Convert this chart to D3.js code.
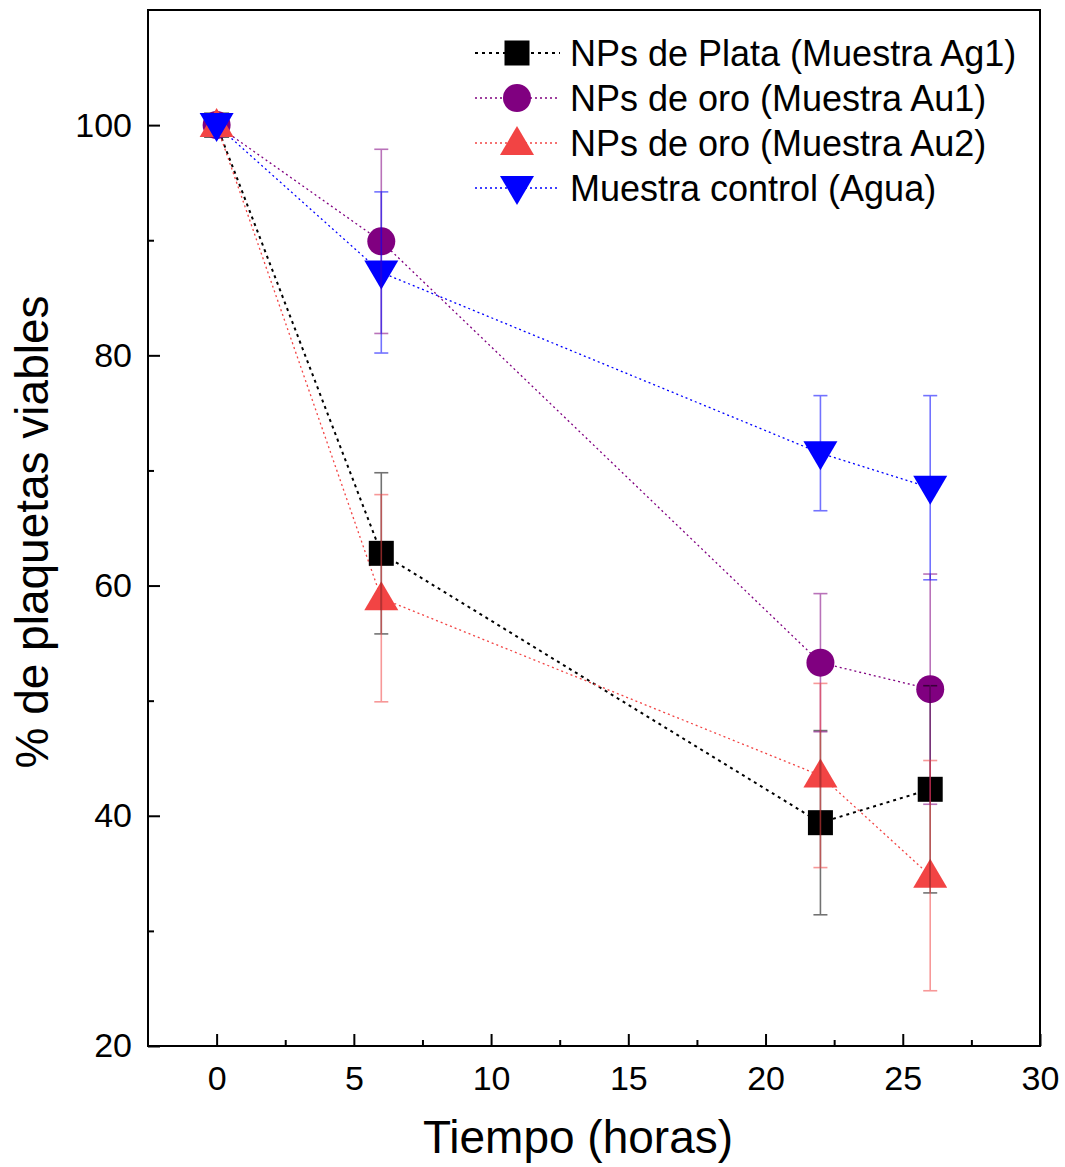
<!DOCTYPE html>
<html>
<head>
<meta charset="utf-8">
<script src="https://cdn.jsdelivr.net/npm/d3@7"></script>
<style>
  body { margin: 0; background: #fff; }
  text { font-family: "Liberation Sans", Arial, sans-serif; }
</style>
</head>
<body>
<svg id="chart" width="1065" height="1167"></svg>
<script>
// time points (horas)
const tiempo = [0, 6, 22, 26];

// % de plaquetas viables, one array per sample, plus their errors
const ag1 = [100, 62.8, 39.4, 42.3];
const ag1Err = [0, 7, 8, 9];
const au1 = [100, 89.9, 53.3, 51.0];
const au1Err = [0, 8, 6, 10];
const au2 = [100, 58.9, 43.5, 34.8];
const au2Err = [0, 9, 8, 10];
const control = [100, 87.2, 71.5, 68.5];
const controlErr = [0, 7, 5, 8];

const names = [
    "NPs de Plata (Muestra Ag1)",
    "NPs de oro (Muestra Au1)",
    "NPs de oro (Muestra Au2)",
    "Muestra control (Agua)"
];

const xTicks = [0, 5, 10, 15, 20, 25, 30];
const yTicks = [20, 40, 60, 80, 100];

const series = [
    { name: names[0], vals: ag1, err: ag1Err, color: "#000000", shape: "square", dash: "3,4", lw: 2 },
    { name: names[1], vals: au1, err: au1Err, color: "#800080", shape: "circle", dash: "2,3", lw: 1.3 },
    { name: names[2], vals: au2, err: au2Err, color: "#f24444", shape: "up", dash: "2,3", lw: 1.3 },
    { name: names[3], vals: control, err: controlErr, color: "#0000ff", shape: "down", dash: "2,3", lw: 1.3 }
];

const svg = d3.select("#chart");
const pLeft = 148, pRight = 1040, pTop = 10, pBottom = 1046;

const x = d3.scaleLinear().domain([-2.5, 30]).range([pLeft, pRight]);
const y = d3.scaleLinear().domain([20, 110]).range([pBottom, pTop]);

// draws a marker of the given shape centred on (cx, cy)
function marker(g, shape, cx, cy, color) {
    if (shape === "square") {
        g.append("rect").attr("x", cx - 12.5).attr("y", cy - 12.5)
            .attr("width", 25).attr("height", 25).attr("fill", color);
    } else if (shape === "circle") {
        g.append("circle").attr("cx", cx).attr("cy", cy).attr("r", 14).attr("fill", color);
    } else if (shape === "up") {
        g.append("path").attr("fill", color)
            .attr("d", `M${cx},${cy - 17}L${cx + 17},${cy + 12}L${cx - 17},${cy + 12}Z`);
    } else {
        g.append("path").attr("fill", color)
            .attr("d", `M${cx},${cy + 17}L${cx + 17},${cy - 12}L${cx - 17},${cy - 12}Z`);
    }
}

// connecting dotted lines
const line = d3.line().x(d => x(d[0])).y(d => y(d[1]));
series.forEach(s => {
    svg.append("path")
        .datum(tiempo.map((t, i) => [t, s.vals[i]]))
        .attr("d", line)
        .attr("fill", "none")
        .attr("stroke", s.color)
        .attr("stroke-width", s.lw)
        .attr("stroke-dasharray", s.dash);
});

// markers
series.forEach(s => {
    const g = svg.append("g");
    tiempo.forEach((t, i) => marker(g, s.shape, x(t), y(s.vals[i]), s.color));
});

// error bars on top, semi transparent
series.forEach(s => {
    const g = svg.append("g").attr("stroke", s.color).attr("stroke-width", 1.6).attr("opacity", 0.55);
    tiempo.forEach((t, i) => {
        if (!s.err[i]) return;
        const cx = x(t), y1 = y(s.vals[i] + s.err[i]), y2 = y(s.vals[i] - s.err[i]);
        g.append("line").attr("x1", cx).attr("x2", cx).attr("y1", y1).attr("y2", y2);
        g.append("line").attr("x1", cx - 7).attr("x2", cx + 7).attr("y1", y1).attr("y2", y1);
        g.append("line").attr("x1", cx - 7).attr("x2", cx + 7).attr("y1", y2).attr("y2", y2);
    });
});

// frame
svg.append("rect").attr("x", pLeft).attr("y", pTop)
    .attr("width", pRight - pLeft).attr("height", pBottom - pTop)
    .attr("fill", "none").attr("stroke", "#000").attr("stroke-width", 2);

// x axis, inward ticks
const xAxis = d3.axisBottom(x).tickValues(xTicks).tickSize(-12).tickPadding(20)
    .tickFormat(d3.format("d"));
const gx = svg.append("g").attr("transform", `translate(0,${pBottom})`).call(xAxis);
gx.select(".domain").remove();
gx.selectAll(".tick line").attr("stroke-width", 2);
gx.selectAll("text").attr("font-size", 34).attr("fill", "#000");
const gxm = svg.append("g").attr("transform", `translate(0,${pBottom})`)
    .call(d3.axisBottom(x).tickValues(d3.range(2.5, 30, 5)).tickSize(-6).tickFormat(""));
gxm.select(".domain").remove();
gxm.selectAll(".tick line").attr("stroke-width", 2);

// y axis
const yAxis = d3.axisLeft(y).tickValues(yTicks).tickSize(-12).tickPadding(16);
const gy = svg.append("g").attr("transform", `translate(${pLeft},0)`).call(yAxis);
gy.select(".domain").remove();
gy.selectAll(".tick line").attr("stroke-width", 2);
gy.selectAll("text").attr("font-size", 34).attr("fill", "#000");
const gym = svg.append("g").attr("transform", `translate(${pLeft},0)`)
    .call(d3.axisLeft(y).tickValues([30, 50, 70, 90]).tickSize(-6).tickFormat(""));
gym.select(".domain").remove();
gym.selectAll(".tick line").attr("stroke-width", 2);

// axis titles
svg.append("text").attr("x", 578).attr("y", 1153).attr("text-anchor", "middle")
    .attr("font-size", 46).text("Tiempo (horas)");
svg.append("text").attr("transform", "translate(48,532) rotate(-90)")
    .attr("text-anchor", "middle").attr("font-size", 46).text("% de plaquetas viables");

// legend
const leg = svg.append("g");
series.forEach((s, i) => {
    const ly = 53 + i * 45;
    leg.append("line").attr("x1", 475).attr("x2", 560).attr("y1", ly).attr("y2", ly)
        .attr("stroke", s.color).attr("stroke-width", s.lw).attr("stroke-dasharray", s.dash);
    marker(leg, s.shape, 517, ly, s.color);
    leg.append("text").attr("x", 570).attr("y", ly + 13).attr("font-size", 36).text(s.name);
});
</script>
</body>
</html>
